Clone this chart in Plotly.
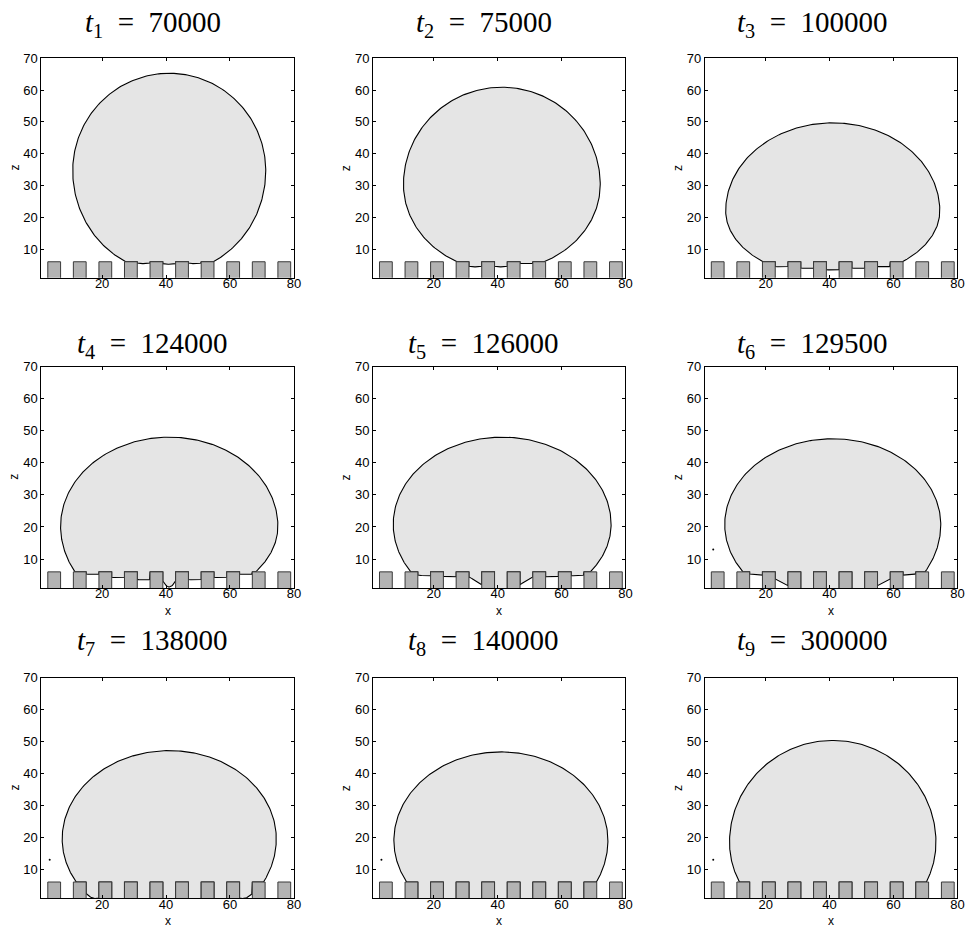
import numpy as np
import plotly.graph_objects as go

# ---------------- data ----------------
time_index = [1, 2, 3, 4, 5, 6, 7, 8, 9]
time_value = [70000, 75000, 100000, 124000, 126000, 129500, 138000, 140000, 300000]

# droplet outline parameters (x, z in lattice units)
drop_xc = [41.0, 41.3, 41.0, 41.0, 41.4, 41.0, 41.0, 41.0, 41.0]
drop_zmid = [34.6, 30.3, 22.0, 20.2, 20.8, 20.7, 19.5, 19.0, 18.4]
drop_halfwidth = [30.2, 30.8, 33.5, 34.0, 34.1, 33.8, 33.5, 33.5, 32.3]
drop_ztop = [65.3, 60.9, 49.7, 48.0, 48.0, 47.5, 47.2, 46.8, 50.4]
contact_left = [27.4, 27.3, 19.2, 11.5, 12.8, 12.9, 11.9, 11.5, 11.8]
contact_right = [54.8, 54.5, 62.8, 68.0, 69.0, 69.9, 70.5, 70.9, 70.3]

# pillars
pillar_left = [3, 11, 19, 27, 35, 43, 51, 59, 67, 75]
pillar_width = 4
pillar_height = 6
gap_left = [7, 15, 23, 31, 39, 47, 55, 63, 71]

# liquid-gas interface inside each gap: (z at left wall, z mid, z at right wall); None = dry
menisci_t1 = [None, None, None, (5.6, 5.4, 5.6), (5.4, 5.2, 5.4), (5.6, 5.4, 5.6), None, None, None]
menisci_t2 = [None, None, None, (4.6, 4.4, 4.6), (4.6, 4.4, 4.6), (5.5, 5.4, 5.5), None, None, None]
menisci_t3 = [None, None, (4.5, 4.4, 4.5), (4.0, 3.9, 4.0), (3.5, 3.4, 3.5), (4.0, 3.9, 4.0), (4.5, 4.4, 4.5), None, None]
menisci_t4 = [None, (5.3, 5.2, 5.3), (4.3, 4.2, 4.3), (3.6, 3.5, 3.6), (3.2, 1.3, 3.2), (3.6, 3.5, 3.6), (4.3, 4.2, 4.3), (5.3, 5.2, 5.3), None]
menisci_t5 = [None, (5.0, 4.8, 4.8), (4.6, 4.5, 4.5), (4.4, 3.3, 2.0), (0, 0, 0), (2.0, 3.3, 4.4), (4.5, 4.5, 4.6), (4.8, 4.8, 5.0), None]
menisci_t6 = [None, (5.3, 5.2, 5.0), (3.8, 2.8, 1.7), (0, 0, 0), (0, 0, 0), (0, 0, 0), (1.7, 2.8, 3.8), (5.0, 5.2, 5.3), None]
menisci_t7 = [None, (2.4, 1.0, 1.0), (0, 0, 0), (0, 0, 0), (0, 0, 0), (0, 0, 0), (0, 0, 0), (1.0, 1.0, 2.4), None]
menisci_t8 = [None, (0, 0, 0), (0, 0, 0), (0, 0, 0), (0, 0, 0), (0, 0, 0), (0, 0, 0), (0, 0, 0), None]
menisci_t9 = [None, (0, 0, 0), (0, 0, 0), (0, 0, 0), (0, 0, 0), (0, 0, 0), (0, 0, 0), (0, 0, 0), None]
menisci = [menisci_t1, menisci_t2, menisci_t3, menisci_t4, menisci_t5,
           menisci_t6, menisci_t7, menisci_t8, menisci_t9]

# small satellite droplet visible in later frames
satellite_x = [None, None, None, None, None, 3.6, 3.6, 3.6, 3.6]
satellite_z = [None, None, None, None, None, 13.0, 13.0, 13.0, 13.0]

x_ticks = [20, 40, 60, 80]
z_ticks = [10, 20, 30, 40, 50, 60, 70]
x_range = [1, 80]
z_range = [1, 70]

# ---------------- layout geometry (pixels) ----------------
W, H = 977, 931
col_px = [(41.7, 296.0), (375.8, 630.0), (710.0, 964.3)]
row_px = [(51.7, 272.7), (362.3, 585.3), (676.0, 897.7)]
title_cx = [154, 487, 818]
title_cy = [17, 341, 640]

DROP_FILL = "#e5e5e5"
PILLAR_FILL = "#b3b3b3"
PILLAR_EDGE = "#3a3a3a"
TICK_FONT = dict(family="Liberation Sans, Arial, sans-serif", size=13, color="#000")


def droplet_outline(k):
    xc, zm, a, zt = drop_xc[k], drop_zmid[k], drop_halfwidth[k], drop_ztop[k]
    xl, xr = contact_left[k], contact_right[k]
    base = pillar_height
    phiL = np.arccos((xc - xl) / a)
    phiR = np.arccos((xr - xc) / a)
    bL = (zm - base) / np.sin(phiL)
    bR = (zm - base) / np.sin(phiR)
    xs, zs = [], []
    ph = np.linspace(phiL, 0, 60)
    xs += list(xc - a * np.cos(ph)); zs += list(zm - bL * np.sin(ph))
    th = np.linspace(np.pi, 0, 160)
    xs += list(xc + a * np.cos(th)); zs += list(zm + (zt - zm) * np.sin(th))
    ph = np.linspace(0, phiR, 60)
    xs += list(xc + a * np.cos(ph)); zs += list(zm - bR * np.sin(ph))
    # bottom path (left -> right), then reversed
    bx, bz = [xl], [base]
    for g0, men in zip(gap_left, menisci[k]):
        g1 = g0 + pillar_width
        if g0 < xl or g1 > xr:
            continue
        bx.append(g0); bz.append(base)
        if men is not None:
            zl, zmid, zr = men
            u = np.linspace(-1, 1, 25)
            zz = zmid + (zr - zl) / 2 * u + ((zl + zr) / 2 - zmid) * u ** 2
            zz = np.clip(zz, 0, None)
            bx += list(g0 + 2 + 2 * u); bz += list(zz)
        bx.append(g1); bz.append(base)
    bx.append(xr); bz.append(base)
    xs += bx[::-1]; zs += bz[::-1]
    return xs, zs


fig = go.Figure()
layout = dict(width=W, height=H, margin=dict(l=0, r=0, t=0, b=0),
              paper_bgcolor="white", plot_bgcolor="white", showlegend=False)
annotations = []

px_x = []
px_y = []
for p in pillar_left:
    px_x += [p, p + pillar_width, p + pillar_width, p, p, None]
    px_y += [0, 0, pillar_height, pillar_height, 0, None]

for k in range(9):
    r, c = divmod(k, 3)
    sfx = "" if k == 0 else str(k + 1)
    xa, ya = "x" + sfx, "y" + sfx
    x0, x1 = col_px[c]
    y0, y1 = row_px[r]
    layout["xaxis" + sfx] = dict(
        domain=[x0 / W, x1 / W], range=x_range, anchor=ya,
        tickvals=x_ticks, ticks="inside", ticklen=3, tickcolor="black",
        showline=True, linecolor="black", linewidth=1, mirror="ticks",
        showgrid=False, zeroline=False, tickfont=TICK_FONT, fixedrange=True,
        ticklabelstandoff=-6)
    layout["yaxis" + sfx] = dict(
        domain=[1 - y1 / H, 1 - y0 / H], range=z_range, anchor=xa,
        tickvals=z_ticks, ticks="inside", ticklen=3, tickcolor="black",
        showline=True, linecolor="black", linewidth=1, mirror="ticks",
        showgrid=False, zeroline=False, tickfont=TICK_FONT, fixedrange=True)

    dx, dz = droplet_outline(k)
    fig.add_trace(go.Scatter(x=dx, y=dz, xaxis=xa, yaxis=ya, mode="lines",
                             fill="toself", fillcolor=DROP_FILL,
                             line=dict(color="black", width=1.1), hoverinfo="skip"))
    fig.add_trace(go.Scatter(x=px_x, y=px_y, xaxis=xa, yaxis=ya, mode="lines",
                             fill="toself", fillcolor=PILLAR_FILL,
                             line=dict(color=PILLAR_EDGE, width=1), hoverinfo="skip"))
    if satellite_x[k] is not None:
        fig.add_trace(go.Scatter(x=[satellite_x[k]], y=[satellite_z[k]], xaxis=xa, yaxis=ya,
                                 mode="markers", marker=dict(size=2, color="black"),
                                 hoverinfo="skip"))

    # title
    annotations.append(dict(
        text=f"<i>t</i><sub>{time_index[k]}</sub>&nbsp;&nbsp;=&nbsp;&nbsp;{time_value[k]}",
        x=title_cx[c] / W, y=1 - title_cy[r] / H, xref="paper", yref="paper",
        xanchor="center", yanchor="middle", showarrow=False,
        font=dict(family="Liberation Serif, Times New Roman, serif", size=29, color="black")))
    # z label
    annotations.append(dict(
        text="z", x=(x0 - 27) / W, y=1 - (y0 + y1) / 2 / H, xref="paper", yref="paper",
        xanchor="center", yanchor="middle", showarrow=False, textangle=-90,
        font=dict(family="Liberation Sans, Arial, sans-serif", size=12, color="black")))
    # x label (row 1 labels are hidden under the next row's titles in the reference)
    if r > 0:
        annotations.append(dict(
            text="x", x=(x0 + x1) / 2 / W, y=1 - (y1 + 23) / H, xref="paper", yref="paper",
            xanchor="center", yanchor="middle", showarrow=False,
            font=dict(family="Liberation Sans, Arial, sans-serif", size=12, color="black")))

layout["annotations"] = annotations
fig.update_layout(**layout)
fig.write_html("out.html")
